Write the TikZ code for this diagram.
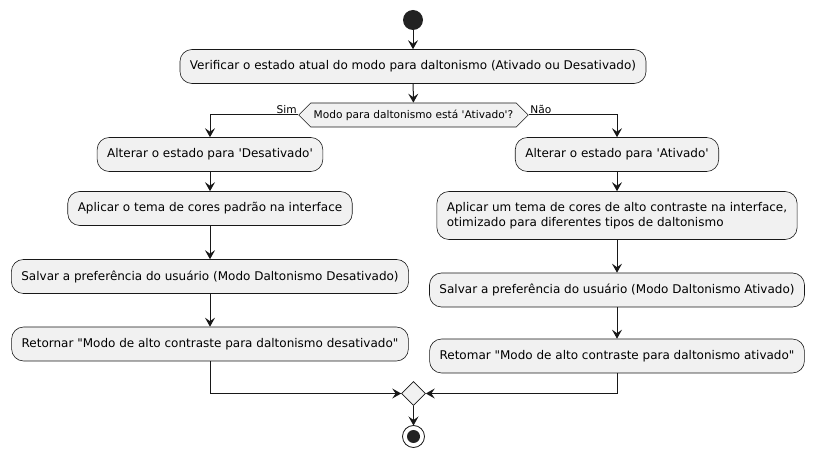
\documentclass[tikz,border=0pt]{standalone}
\usepackage{fontspec}
\setmainfont{DejaVu Sans}[Ligatures=TeXOff]
\usetikzlibrary{arrows.meta, shapes.geometric, shapes.symbols}

\definecolor{boxfill}{HTML}{F1F1F1}
\definecolor{ink}{HTML}{181818}
\definecolor{dot}{HTML}{222222}

\tikzset{
    activity/.style={draw=ink, line width=0.6pt, fill=boxfill, rounded corners=12pt,
        minimum height=34pt, inner xsep=10pt, font=\fontsize{12}{14.5}\selectfont},
    decision/.style={draw=ink, line width=0.6pt, fill=boxfill, shape=signal,
        signal to=west and east, signal pointer angle=90, minimum height=24pt,
        inner xsep=3pt, font=\fontsize{10.6}{12}\selectfont},
    merge/.style={draw=ink, line width=0.6pt, fill=boxfill, shape=diamond,
        minimum width=24pt, minimum height=24pt, inner sep=0pt},
    flow/.style={draw=ink, line width=1pt, -{Stealth[length=9pt, width=10pt, inset=3.5pt]}},
    branch/.style={font=\fontsize{10.6}{12}\selectfont, inner sep=1.5pt}
}

\begin{document}
\begin{tikzpicture}[x=1pt, y=-1pt]
    \useasboundingbox (0,0) rectangle (815,457);

    % Start point
    \fill[dot] (413,20) circle (10);
    \coordinate (start) at (413,30);

    % Check the current mode
    \node[activity] (check) at (413,66.5) {Verificar o estado atual do modo para daltonismo (Ativado ou Desativado)};
    \node[decision] (dec) at (413.5,115) {Modo para daltonismo está 'Ativado'?};
    \node[branch, anchor=south east] at (dec.west) {Sim};
    \node[branch, anchor=south west] at (dec.east) {Não};

    % Branch 'Sim' (turn it off)
    \node[activity] (a1) at (210,154.5) {Alterar o estado para 'Desativado'};
    \node[activity] (a2) at (210,208.5) {Aplicar o tema de cores padrão na interface};
    \node[activity] (a3) at (210,276.5) {Salvar a preferência do usuário (Modo Daltonismo Desativado)};
    \node[activity] (a4) at (210,344) {Retornar "Modo de alto contraste para daltonismo desativado"};

    % Branch 'Não' (turn it on)
    \node[activity] (b1) at (617,154.5) {Alterar o estado para 'Ativado'};
    \node[activity, align=left, minimum height=48pt] (b2) at (617,215.5) {Aplicar um tema de cores de alto contraste na interface,\\otimizado para diferentes tipos de daltonismo};
    \node[activity] (b3) at (617,290) {Salvar a preferência do usuário (Modo Daltonismo Ativado)};
    \node[activity] (b4) at (617,356) {Retomar "Modo de alto contraste para daltonismo ativado"};

    % Merge and stop
    \node[merge] (join) at (413.5,393.5) {};
    \draw[ink, line width=0.8pt, fill=white] (413.5,436.5) circle (11);
    \fill[dot] (413.5,436.5) circle (6.5);
    \coordinate (stop) at (413.5,425.5);

    % Connectors
    \draw[flow] (start) -- (check);
    \draw[flow] (check) -- (dec);
    \draw[flow] (dec.west) -| (a1.north);
    \draw[flow] (dec.east) -| (b1.north);
    \draw[flow] (a1) -- (a2);
    \draw[flow] (a2) -- (a3);
    \draw[flow] (a3) -- (a4);
    \draw[flow] (b1) -- (b2);
    \draw[flow] (b2) -- (b3);
    \draw[flow] (b3) -- (b4);
    \draw[flow] (a4.south) |- (join.west);
    \draw[flow] (b4.south) |- (join.east);
    \draw[flow] (join) -- (stop);
\end{tikzpicture}
\end{document}
